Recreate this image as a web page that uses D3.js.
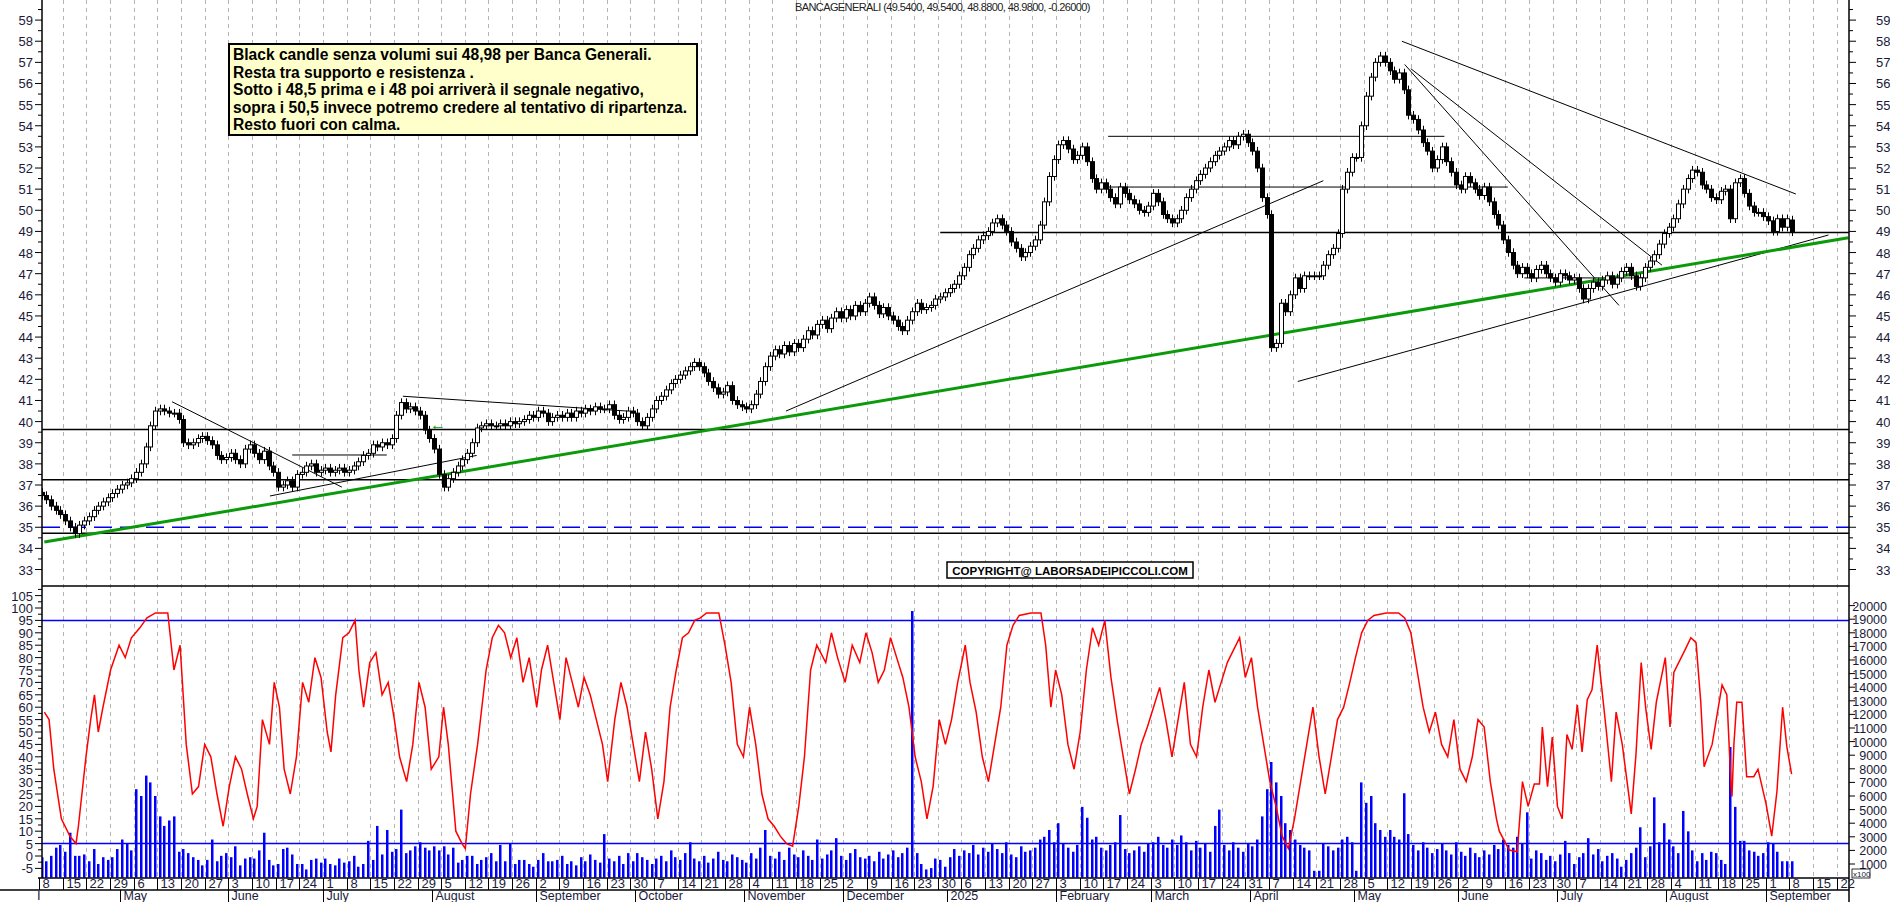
<!DOCTYPE html>
<html><head><meta charset="utf-8">
<script src="https://cdn.jsdelivr.net/npm/d3@7"></script>
<style>body{margin:0;background:#fff;overflow:hidden}svg{display:block}text{font-family:"Liberation Sans",Arial,sans-serif}</style>
</head><body><svg id="c" width="1890" height="902"></svg>
<script>
// ---------- DATA ----------
const startDate = "2024-04-08";
const axisEndDate = "2025-09-26";
const closes = [
36.5,36.3,36.0,35.8,35.6, 35.3,35.0,34.7,35.1,35.3, 35.5,35.8,36.0,36.2,36.4, 36.6,36.8,37.0,37.1,37.3,
37.6,38.0,38.8,39.8,40.5, 40.6,40.5,40.4,40.4,40.1, 39.0,38.9,39.0,39.2,39.3, 39.1,38.9,38.4,38.2,38.3,
38.5,38.2,38.0,38.7,38.9, 38.5,38.2,38.6,37.9,37.6, 36.9,37.0,37.2,36.9,37.5, 37.6,37.9,38.0,37.6,37.7,
37.8,37.6,37.7,37.8,37.6, 37.7,37.9,38.1,38.4,38.5, 38.9,38.8,39.0,38.9,39.2, 40.3,40.9,40.6,40.7,40.5,
40.3,39.6,39.2,38.7,37.5, 36.9,37.3,37.6,37.9,38.2, 38.5,39.0,39.7,39.8,39.9, 39.8,39.8,39.9,39.8,40.0,
39.9,40.0,40.1,40.3,40.2, 40.5,40.4,40.0,40.2,40.3, 40.2,40.4,40.2,40.5,40.4, 40.6,40.5,40.7,40.6,40.6,
40.8,40.3,40.1,40.2,40.5, 40.4,40.0,39.8,40.2,40.6, 41.0,41.2,41.5,41.8,42.0, 42.2,42.4,42.6,42.8,42.6,
42.3,41.9,41.6,41.3,41.4, 41.7,41.0,40.8,40.7,40.6, 40.8,41.3,41.9,42.6,43.1, 43.4,43.2,43.6,43.3,43.7,
43.5,43.9,44.3,44.1,44.6, 44.8,44.4,44.9,45.2,44.9, 45.3,45.0,45.5,45.2,45.6, 45.9,45.5,45.1,45.4,45.0,
44.8,44.5,44.3,44.8,45.2, 45.6,45.3,45.4,45.5,45.8, 45.9,46.1,46.3,46.5,46.9, 47.3,47.9,48.2,48.6,48.8,
49.0,49.4,49.6,49.3,49.0, 48.5,48.2,47.8,48.0,48.3, 48.6,49.3,50.4,51.6,52.4, 53.1,53.3,52.9,52.4,52.6,
53.0,52.3,51.5,51.0,51.3, 51.0,50.6,50.3,51.1,50.8, 50.5,50.3,50.0,49.9,50.2, 50.8,50.4,49.8,49.6,49.4,
49.6,50.0,50.6,51.0,51.4, 51.7,52.0,52.3,52.6,52.8, 53.0,53.3,53.1,53.5,53.6, 53.2,52.8,52.0,50.6,49.8,
43.5,43.7,45.6,45.2,46.0, 46.8,46.3,46.9,46.9,46.9, 46.9,47.4,47.9,48.2,48.9, 51.0,51.8,52.5,52.5,54.0,
55.4,56.3,57.0,57.3,57.0, 56.6,56.2,56.5,55.7,54.5, 54.3,53.8,53.2,52.8,52.0, 52.4,53.0,52.3,51.8,51.2,
51.0,51.6,51.3,51.0,50.7, 51.1,50.4,49.8,49.3,48.6, 48.0,47.4,47.0,47.3,47.0, 46.8,47.2,47.4,47.0,46.8,
46.6,47.0,46.9,46.7,46.8, 46.3,45.8,46.3,46.6,46.4, 46.7,46.9,46.5,46.8,47.1, 47.3,46.9,46.4,46.8,47.3,
47.6,47.9,48.4,48.9,49.2, 49.6,50.3,51.0,51.5,51.9, 51.8,51.2,51.0,50.6,50.5, 50.9,51.0,49.6,51.3,51.5,
50.8,50.2,49.9,49.9,49.7, 49.5,49.0,49.6,49.2,49.6, 48.98];
const lastOpen = 49.54;
const volumes = [
1.5,1.2,1.6,2.2,2.4, 1.9,3.3,1.6,1.6,1.7, 1.2,2.1,1.0,1.5,1.3, 1.5,2.1,2.8,2.5,2.0,
6.5,6.0,7.5,7.0,6.0, 4.5,3.8,4.2,4.5,1.9, 2.1,1.8,1.5,1.3,0.9, 1.3,2.8,1.2,1.6,1.8,
1.5,2.3,0.9,1.4,1.5, 1.4,2.0,3.3,1.3,0.9, 1.0,2.1,2.2,1.7,1.0, 1.0,0.6,1.3,1.4,1.1,
1.4,1.0,0.9,1.4,1.1, 1.2,1.6,0.8,1.0,2.7, 1.3,3.8,1.7,3.5,1.9, 2.1,5.0,1.8,2.0,2.3,
2.6,2.2,2.0,2.3,2.0, 2.3,1.7,2.2,1.1,1.3, 1.6,1.6,1.0,1.3,1.5, 1.8,1.2,2.4,1.2,2.5,
1.0,1.3,1.3,1.0,0.8, 1.3,1.8,1.2,1.2,1.3, 1.6,1.0,1.2,0.9,1.5, 1.2,1.7,1.3,1.1,3.2,
1.4,1.2,1.6,1.0,1.8, 1.2,1.8,1.5,1.3,1.0, 1.4,1.6,1.2,2.0,1.5, 1.3,1.8,2.6,1.4,1.2,
1.6,1.1,1.4,1.9,1.3, 1.2,1.7,1.5,1.3,1.1, 1.8,1.4,2.2,3.5,1.6, 1.4,1.9,1.3,2.2,1.7,
1.5,2.0,1.6,1.3,2.8, 1.4,1.7,2.0,2.9,1.6, 1.3,1.8,2.1,1.5,1.4, 1.6,1.2,1.9,1.4,1.7,
2.0,1.5,1.8,2.2,19.6, 1.8,1.0,0.6,0.7,1.4, 1.3,0.8,1.5,2.1,1.6, 2.0,1.8,2.4,1.7,2.2,
1.9,2.5,2.1,1.8,2.6, 1.7,1.5,2.3,1.9,2.0, 2.2,2.8,3.0,3.5,2.6, 4.0,2.5,2.2,1.9,2.4,
5.2,4.4,2.8,3.0,2.2, 2.0,2.4,2.6,4.6,2.1, 1.8,2.0,2.3,1.9,2.5, 2.6,3.0,2.4,2.2,2.8,
2.4,3.1,2.6,2.0,2.7, 2.2,2.5,1.9,3.8,5.0, 2.4,2.0,2.6,2.2,1.9, 2.5,2.3,2.8,4.5,6.5,
8.5,7.0,6.0,4.0,3.5, 2.8,2.4,2.2,2.0,0.5, 0.5,2.5,2.3,2.0,2.2, 2.8,3.0,2.6,0.5,7.0,
5.5,6.0,4.0,3.5,3.0, 3.5,3.0,2.8,6.2,3.2, 2.4,2.0,2.6,2.2,1.8, 2.1,2.5,2.0,1.7,2.6,
1.9,1.6,2.2,1.8,1.5, 2.0,1.7,2.4,2.1,2.8, 2.4,2.2,3.0,2.5,4.8, 1.4,2.0,1.8,1.3,1.6,
1.2,1.7,2.7,1.8,1.0, 1.5,1.8,2.9,1.7,2.1, 1.2,1.6,1.8,1.4,0.8, 1.3,1.8,2.2,3.7,1.5,
2.3,5.9,2.6,4.0,2.8, 2.3,1.8,4.9,3.4,2.0, 1.2,1.8,1.3,1.9,1.8, 1.3,1.0,9.6,5.2,2.7,
2.7,2.0,1.9,1.6,1.8, 2.6,2.5,1.9,1.2,1.2, 1.2];
// oscillator readings: [trading-day index, value]
const oscIdx = [0.6,1.6,2.6,4.2,6.0,7.3,7.8,9.4,10.4,11.2,12.0,13.0,14.6,16.4,17.7,19.0,20.8,22.3,24.1,26.7,28.0,29.3,30.6,31.9,33.2,34.5,35.8,37.1,38.4,39.7,41.0,42.3,43.5,44.8,45.6,46.7,48.2,49.2,50.3,51.3,52.6,53.9,55.2,56.5,57.8,59.1,60.4,61.2,62.2,63.7,65.0,66.3,67.1,68.1,69.4,70.7,72.0,73.3,74.6,75.7,77.2,78.5,79.8,81.1,82.4,84.0,85.0,86.0,87.6,88.9,89.6,90.7,92.2,94.0,95.3,96.6,97.9,99.2,100.5,101.8,103.1,104.7,105.7,107.0,108.3,109.6,110.9,112.2,113.5,114.7,116.0,117.3,118.6,119.7,121.2,122.5,123.8,125.1,126.4,127.7,129.0,130.3,131.6,132.9,134.2,135.5,136.8,138.1,139.3,140.6,143.2,144.5,145.8,147.1,148.4,149.7,151.0,152.3,153.6,154.9,156.2,157.5,158.8,160.1,161.3,162.6,163.9,165.8,167.0,168.3,169.9,171.4,173.0,174.3,175.6,176.9,178.2,179.5,180.8,182.1,183.4,184.7,186.0,187.2,188.5,189.8,191.1,192.4,193.7,195.3,196.3,197.6,198.9,200.2,201.5,202.8,204.1,205.4,206.7,209.2,211.3,212.3,213.4,214.4,215.7,217.0,218.3,219.6,220.9,222.2,223.5,224.8,226.1,227.4,228.7,230.0,231.3,232.5,233.8,235.1,236.4,237.7,239.0,240.3,241.6,242.9,244.2,245.5,246.8,248.1,249.4,250.7,252.0,253.3,254.5,255.8,257.1,258.4,259.7,261.0,262.3,263.6,264.9,266.2,267.5,268.8,270.1,271.4,272.7,274.0,275.3,276.6,277.8,279.1,280.4,281.7,284.3,286.9,288.2,289.5,290.8,292.1,293.4,294.7,296.0,297.3,298.6,299.9,301.2,302.5,303.7,305.0,306.3,307.6,308.2,310.3,312.0,313.1,314.3,315.6,316.7,317.3,318.4,319.4,320.5,321.5,322.5,323.6,324.7,325.7,326.8,327.8,328.9,330.8,331.9,332.9,334.2,336.1,337.1,338.2,339.2,340.3,341.4,343.3,344.3,345.1,347.7,348.7,349.8,350.8,351.5,353.2,355.3,356.3,357.2,357.4,357.8,358.4,359.5,360.5,362.0,362.9,364.6,365.8,366.9,368.1,369.0,370.0];
const oscVal = [58,55,35,15,8,5,12,40,55,65,50,60,75,85,80,88,92,96,98,98,75,85,45,25,28,45,40,25,12,28,40,35,25,15,20,55,45,70,60,35,25,40,70,62,80,72,50,42,65,88,90,95,75,60,78,82,65,70,55,40,30,45,70,60,35,40,60,45,10,5,3,25,45,75,88,93,90,80,88,70,80,60,75,85,70,55,80,70,60,72,65,55,45,30,55,70,60,45,30,50,35,15,30,60,75,88,90,95,96,98,98,85,70,45,40,60,45,25,15,12,8,5,4,20,40,75,85,78,90,80,70,85,78,90,82,70,75,88,80,72,60,40,30,15,28,55,45,55,70,85,70,58,40,30,45,60,85,93,97,98,98,85,60,75,65,45,35,50,75,92,85,95,72,55,40,25,35,45,52,60,68,55,40,55,70,45,40,60,75,62,70,78,83,88,72,80,60,45,30,20,8,3,15,30,45,60,40,25,40,55,60,70,80,90,95,97,98,98,96,90,75,60,50,58,45,40,55,35,30,40,55,52,30,15,10,2.4,1.7,30,20,29,29,52,28,48,20,15,49,43,61,42,63,67,85,51,30,58,45,17,41,78,59,43,62,80,52,74,84,88,86,62,36,45,69,65,28,24,45,62,62,32,32,35,21,8,26,60,44,33];
// trend lines: [startIdx, startPrice, endIdx, endPrice]
const greenLine = [0.6,34.3,382,48.7];
const blackLines = [
 [27.6,40.94,63.5,36.9],[48.3,36.48,92,38.4],[53,38.42,73,38.42],[76.4,41.2,123.8,40.5],
 [157.4,40.5,271,51.4],[265.6,41.9,377.8,48.83],[287.6,58.0,370.9,50.77],
 [289.5,56.7,342.6,47.4],[288.2,56.9,333.5,45.5],[225.5,53.5,296.6,53.5],[225.5,51.1,310,51.1],
 [313.5,46.8,338.6,46.8]];
const fullHLines = [39.63,37.25,34.72];
const partialHLine = [190,48.95];
const dashedLine = 35.0;
const priceTicks = d3.range(33,60);
const oscTicks = d3.range(-5,106,5);
const volTicks = d3.range(1000,20001,1000);
const oscLevels = [95,5];
const monthNames = ["January","February","March","April","May","June","July","August","September","October","November","December"];
const noteLines = ["Black candle senza volumi sui 48,98 per Banca Generali.","Resta tra supporto e resistenza .","Sotto i 48,5 prima e i 48 poi arriverà il segnale negativo,","sopra i 50,5 invece potremo credere al tentativo di ripartenza.","Resto fuori con calma."];
const titleText = "BANCAGENERALI (49.5400, 49.5400, 48.8800, 48.9800, -0.26000)";
const copyText = "COPYRIGHT@ LABORSADEIPICCOLI.COM";

// ---------- BUILD ----------
const svg = d3.select("#c");
const L=42, R=1849, PT=0, PB=586, OB=878;
const days=[]; {let d=new Date(startDate+"T12:00:00"); const e=new Date(axisEndDate+"T12:00:00");
 while(d<=e){ if(d.getDay()>0&&d.getDay()<6) days.push(new Date(d)); d=new Date(d.getTime()+864e5);} }
const x = d3.scaleLinear().domain([0,370]).range([41.5,1791.6]);
const y = d3.scaleLinear().domain([37,59]).range([485,20.1]);
const yo = d3.scaleLinear().domain([0,100]).range([856,608]);
const yv = d3.scaleLinear().domain([0,1000]).range([877.6,864]);
const half = 4.73/2;

svg.append("clipPath").attr("id","cp").append("rect").attr("x",L).attr("y",PT).attr("width",R-L).attr("height",PB-PT);
svg.append("clipPath").attr("id","co").append("rect").attr("x",L).attr("y",PB).attr("width",R-L).attr("height",OB-PB);

const mondays = days.map((d,i)=>[d,i]).filter(([d])=>d.getDay()===1);
const g = svg.append("g").attr("stroke","#b4b4b4").attr("stroke-dasharray","4,4").attr("stroke-width",1);
mondays.forEach(([d,i])=>{ if(i===0) return; const gx=Math.round(x(i)-half)+0.5;
  g.append("line").attr("x1",gx).attr("x2",gx).attr("y1",0).attr("y2",OB);});

const P = svg.append("g").attr("clip-path","url(#cp)");
fullHLines.forEach(p=>P.append("line").attr("x1",L).attr("x2",R).attr("y1",y(p)).attr("y2",y(p)).attr("stroke","#000").attr("stroke-width",1.5));
P.append("line").attr("x1",x(partialHLine[0])).attr("x2",R).attr("y1",y(partialHLine[1])).attr("y2",y(partialHLine[1])).attr("stroke","#000").attr("stroke-width",1.5);
P.append("line").attr("x1",L).attr("x2",R).attr("y1",y(dashedLine)).attr("y2",y(dashedLine)).attr("stroke","#0000ee").attr("stroke-width",1.5).attr("stroke-dasharray","18,8");
blackLines.forEach(l=>P.append("line").attr("x1",x(l[0])).attr("y1",y(l[1])).attr("x2",x(l[2])).attr("y2",y(l[3])).attr("stroke","#000").attr("stroke-width",1));
P.append("line").attr("x1",x(greenLine[0])).attr("y1",y(greenLine[1])).attr("x2",x(greenLine[2])).attr("y2",y(greenLine[3])).attr("stroke","#0a9a0a").attr("stroke-width",3);
closes.forEach((c,i)=>{
  const o = i===closes.length-1 ? lastOpen : (i===0? c+0.15 : closes[i-1]);
  const hi = Math.max(o,c)+0.2, lo=Math.min(o,c)-0.2;
  const cx = Math.round(x(i))+0.5;
  P.append("line").attr("x1",cx).attr("x2",cx).attr("y1",y(hi)).attr("y2",y(lo)).attr("stroke","#000");
  const top=y(Math.max(o,c)), h=Math.max(1,y(Math.min(o,c))-top);
  P.append("rect").attr("x",cx-2).attr("y",top).attr("width",4).attr("height",h)
   .attr("fill",c>=o?"#fff":"#000").attr("stroke","#000").attr("stroke-width",1);
});
svg.append("text").attr("x",430).attr("y",y(39.82)+5).attr("fill","#0a9a0a").attr("font-size",16).attr("font-weight","bold").text("←");

const O = svg.append("g").attr("clip-path","url(#co)");
volumes.forEach((v,i)=>{ O.append("rect").attr("x",Math.round(x(i))-1).attr("width",2.5).attr("y",yv(v*1000)).attr("height",yv(0)-yv(v*1000)).attr("fill","#0000ff");});
oscLevels.forEach(v=>O.append("line").attr("x1",L).attr("x2",R).attr("y1",yo(v)).attr("y2",yo(v)).attr("stroke","#0000ff").attr("stroke-width",1.5));
const line = d3.line().x(d=>x(d)).y((d,i)=>yo(oscVal[i]));
O.append("path").attr("d",line(oscIdx)).attr("fill","none").attr("stroke","#ff0000").attr("stroke-width",1.5);

const F = svg.append("g").attr("stroke","#000").attr("stroke-width",1.5);
F.append("line").attr("x1",L).attr("x2",L).attr("y1",0).attr("y2",OB);
F.append("line").attr("x1",R).attr("x2",R).attr("y1",0).attr("y2",902);
F.append("line").attr("x1",L).attr("x2",R).attr("y1",PB).attr("y2",PB);
F.append("line").attr("x1",L-4).attr("x2",R).attr("y1",OB).attr("y2",OB);
F.append("line").attr("x1",0).attr("x2",R).attr("y1",890).attr("y2",890);

const lab = "#1a1a3a";
const A = svg.append("g").attr("font-size",13).attr("fill",lab);
priceTicks.forEach(p=>{
  A.append("text").attr("x",33).attr("y",y(p)+5).attr("text-anchor","end").text(p);
  A.append("text").attr("x",1876).attr("y",y(p)+5).text(p);
  svg.append("line").attr("x1",L-7).attr("x2",L).attr("y1",y(p)).attr("y2",y(p)).attr("stroke","#000");
  svg.append("line").attr("x1",L-4).attr("x2",L).attr("y1",y(p+0.5)).attr("y2",y(p+0.5)).attr("stroke","#000");
  svg.append("line").attr("x1",R).attr("x2",R+7).attr("y1",y(p)).attr("y2",y(p)).attr("stroke","#000");
  svg.append("line").attr("x1",R).attr("x2",R+4).attr("y1",y(p+0.5)).attr("y2",y(p+0.5)).attr("stroke","#000");
});
oscTicks.forEach(v=>{
  A.append("text").attr("x",33).attr("y",yo(v)+5).attr("text-anchor","end").text(v);
  svg.append("line").attr("x1",L-7).attr("x2",L).attr("y1",yo(v)).attr("y2",yo(v)).attr("stroke","#000");
  svg.append("line").attr("x1",L-4).attr("x2",L).attr("y1",yo(v+2.5)).attr("y2",yo(v+2.5)).attr("stroke","#000");
});
volTicks.forEach(v=>{
  A.append("text").attr("x",1887).attr("y",yv(v)+5).attr("text-anchor","end").attr("font-size",12.5).text(v);
  svg.append("line").attr("x1",R).attr("x2",R+6).attr("y1",yv(v)).attr("y2",yv(v)).attr("stroke","#000");
});
svg.append("rect").attr("x",1852).attr("y",869).attr("width",18).attr("height",9).attr("fill","#fff").attr("stroke","#000").attr("stroke-width",0.8);
svg.append("text").attr("x",1853).attr("y",877).attr("font-size",8).attr("fill",lab).text("x100");

mondays.forEach(([d,i])=>{ const tx=Math.round(x(i)-half)+0.5;
  svg.append("line").attr("x1",tx).attr("x2",tx).attr("y1",OB).attr("y2",890).attr("stroke","#000");
  A.append("text").attr("x",tx+3).attr("y",888).text(d.getDate());
});
days.forEach((d,i)=>{ if(i>0 && d.getMonth()!==days[i-1].getMonth()){
  const tx=Math.round(x(i)-half)+0.5;
  svg.append("line").attr("x1",tx).attr("x2",tx).attr("y1",890).attr("y2",902).attr("stroke","#000");
  A.append("text").attr("x",tx+3).attr("y",900).attr("font-size",12.5).text(d.getMonth()===0? String(d.getFullYear()) : monthNames[d.getMonth()]);
}});
A.append("text").attr("x",37).attr("y",900).text("I");

svg.append("text").attr("x",795).attr("y",11).attr("font-size",11).attr("letter-spacing",-0.6).attr("fill","#222").text(titleText);
svg.append("rect").attr("x",229).attr("y",44).attr("width",468).attr("height",91).attr("fill","#ffffcc").attr("stroke","#000").attr("stroke-width",2);
noteLines.forEach((t,k)=>svg.append("text").attr("x",233).attr("y",60+k*17.6).attr("font-size",15.6).attr("font-weight","bold").attr("fill","#000").text(t));
svg.append("rect").attr("x",947).attr("y",562).attr("width",246).attr("height",16).attr("fill","#fff").attr("stroke","#000").attr("stroke-width",1.5);
svg.append("text").attr("x",1070).attr("y",575).attr("text-anchor","middle").attr("font-size",11.5).attr("font-weight","bold").attr("fill","#000").text(copyText);
</script></body></html>
